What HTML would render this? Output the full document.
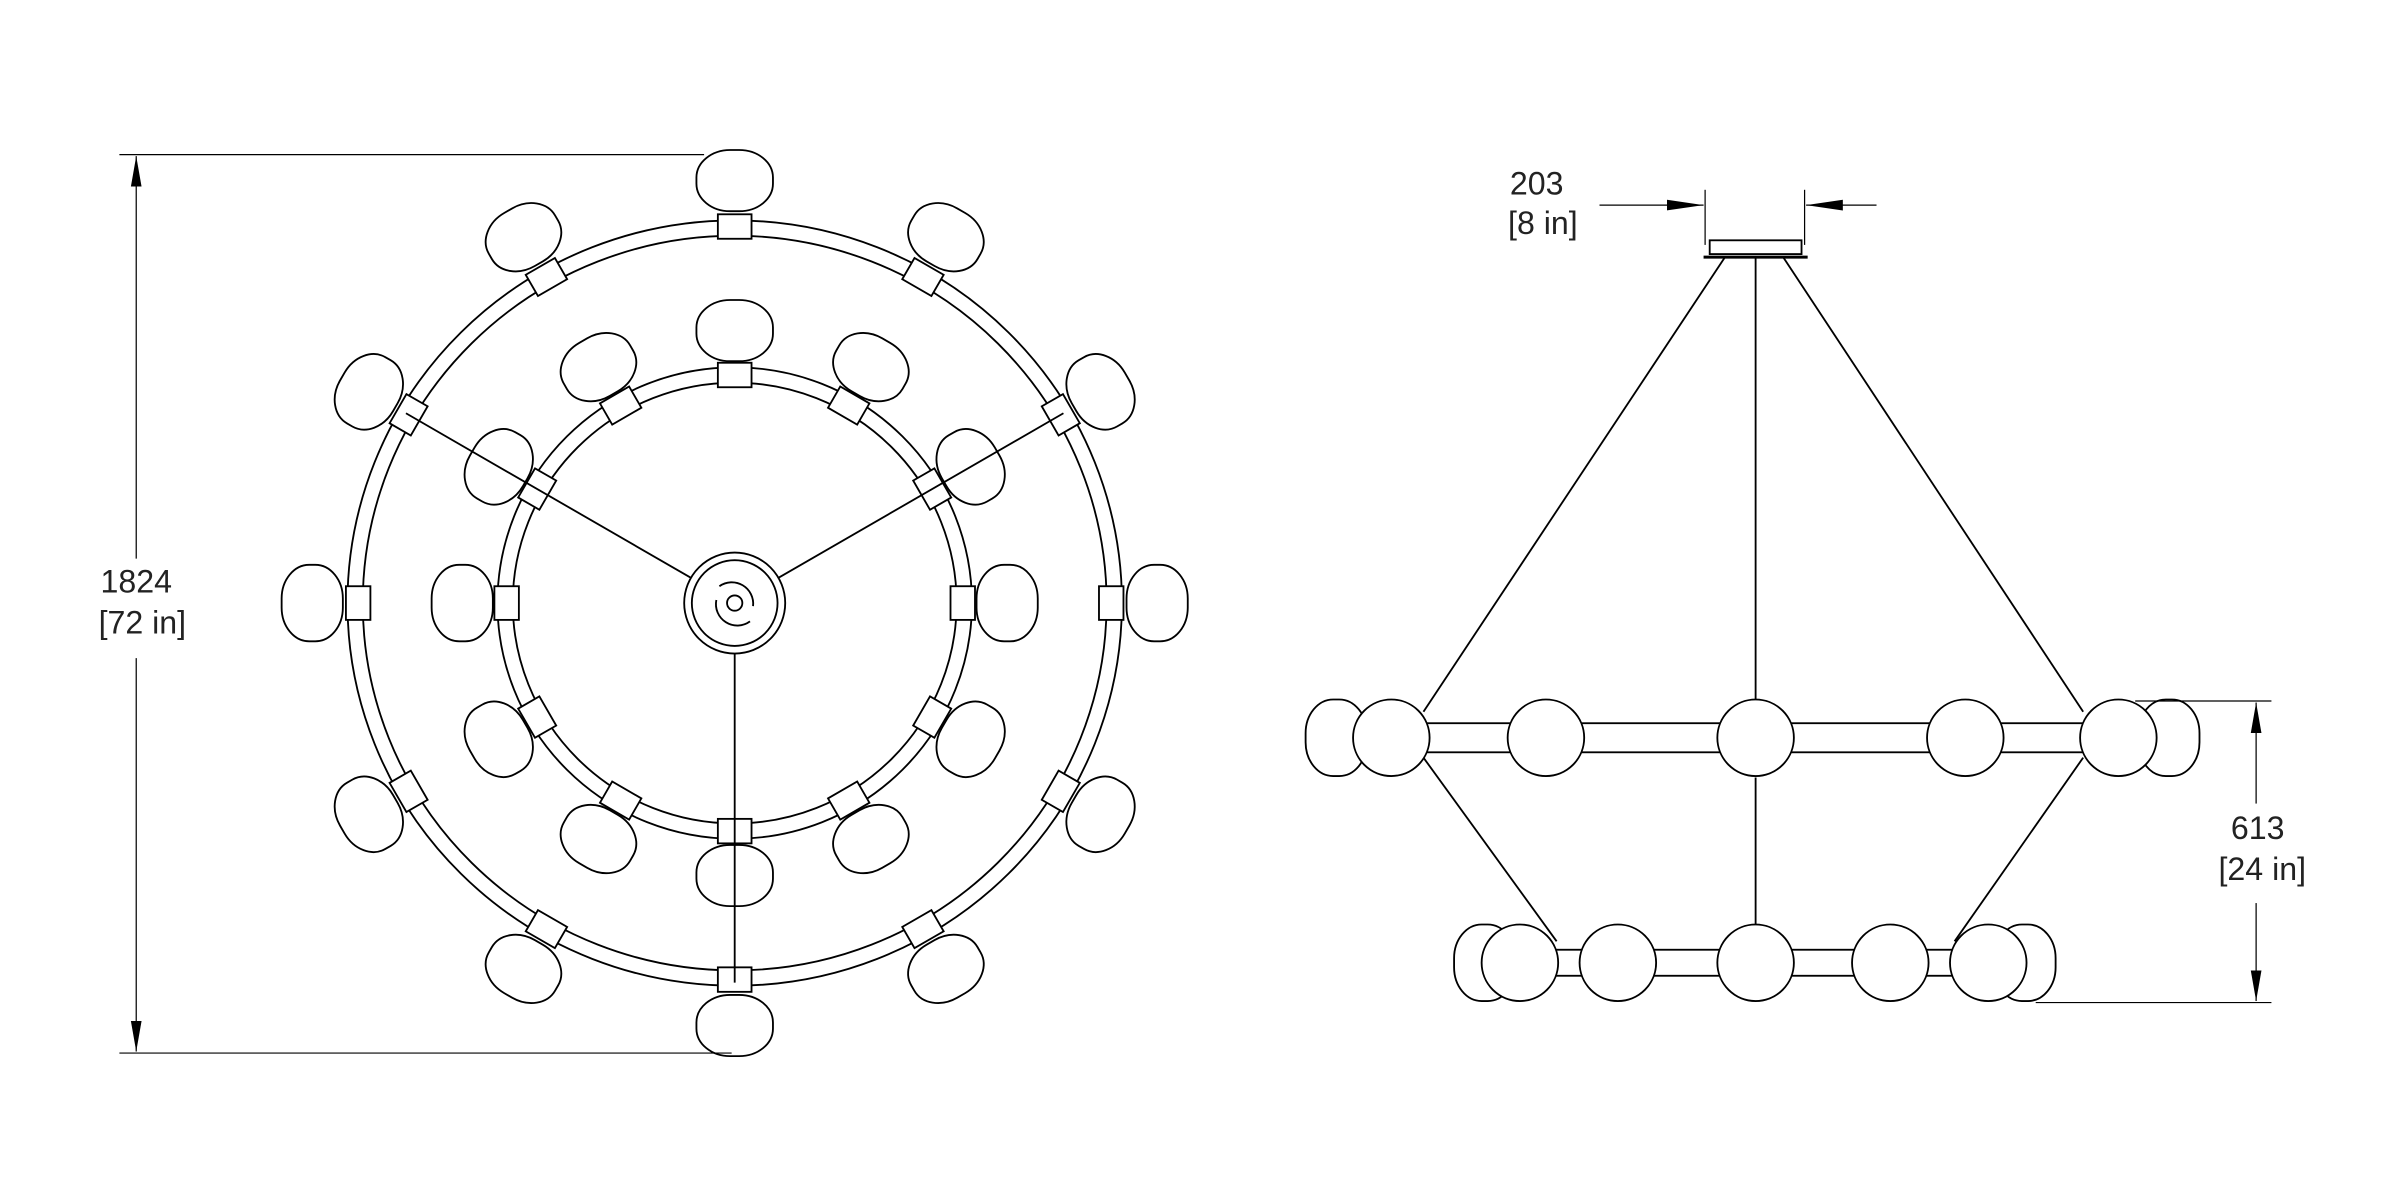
<!DOCTYPE html>
<html><head><meta charset="utf-8"><style>
html,body{margin:0;padding:0;background:#fff;}
svg{display:block;}
text{font-family:"Liberation Sans",sans-serif;font-size:21px;fill:#222;}
</style></head><body>
<svg id="dwg" width="2400" height="1200" viewBox="0 0 1568 784" xmlns="http://www.w3.org/2000/svg">
<defs>
<marker id="ar" viewBox="0 0 24 10" refX="24" refY="5" markerWidth="24" markerHeight="10" markerUnits="userSpaceOnUse" orient="auto-start-reverse"><path d="M0,1.5 L24,5 L0,8.5 z" fill="#000"/></marker>
<marker id="arL" viewBox="0 0 20 10" refX="20" refY="5" markerWidth="20" markerHeight="10" markerUnits="userSpaceOnUse" orient="auto-start-reverse"><path d="M0,1.5 L20,5 L0,8.5 z" fill="#000"/></marker>
</defs>
<g id="top-view" fill="none" stroke="#000" stroke-width="1.2"></g>
<g id="side-view" fill="none" stroke="#000" stroke-width="1.2"></g>
<g stroke="#000" stroke-width="0.8">
<line x1="78" y1="101" x2="460" y2="101"/>
<line x1="78" y1="688" x2="478" y2="688"/>
<line x1="89" y1="365" x2="89" y2="102" marker-end="url(#arL)"/>
<line x1="89" y1="430" x2="89" y2="687" marker-end="url(#arL)"/>
</g>
<text x="89" y="387" text-anchor="middle">1824</text>
<text x="93" y="414" text-anchor="middle">[72 in]</text>
<g stroke="#000" stroke-width="0.8">
<line x1="1114" y1="124" x2="1114" y2="160"/>
<line x1="1179" y1="124" x2="1179" y2="160"/>
<line x1="1045" y1="134" x2="1113" y2="134" marker-end="url(#ar)"/>
<line x1="1226" y1="134" x2="1180" y2="134" marker-end="url(#ar)"/>
</g>
<text x="1004" y="127" text-anchor="middle">203</text>
<text x="1008" y="153" text-anchor="middle">[8 in]</text>
<g stroke="#000" stroke-width="0.8">
<line x1="1395" y1="458" x2="1484" y2="458"/>
<line x1="1330" y1="655" x2="1484" y2="655"/>
<line x1="1474" y1="525" x2="1474" y2="459" marker-end="url(#arL)"/>
<line x1="1474" y1="590" x2="1474" y2="654" marker-end="url(#arL)"/>
</g>
<text x="1475" y="548" text-anchor="middle">613</text>
<text x="1478" y="575" text-anchor="middle">[24 in]</text>
</svg>
<script>
const NS="http://www.w3.org/2000/svg";
function mk(parent,tag,attrs){const e=document.createElementNS(NS,tag);for(const k in attrs)e.setAttribute(k,attrs[k]);parent.appendChild(e);return e;}
const tv=document.getElementById('top-view');
const cx=480,cy=394;
[[253,250,243,240],[155,154,145,144]].forEach(function(r,i){
 const a=mk(tv,'ellipse',{cx:cx,cy:cy,rx:r[0],ry:r[1],fill:'#fff'});
 
 
 const b=mk(tv,'ellipse',{cx:cx,cy:cy,rx:r[2],ry:r[3]});
 
 
});
function ring(rc,rg,name){
 for(let k=0;k<12;k++){
  const ang=k*30;const t=ang*Math.PI/180;
  const g=mk(tv,'g',{transform:'translate('+(cx+rg*Math.sin(t))+','+(cy-rg*Math.cos(t))+') rotate('+ang+')'});
  
  
  mk(g,'rect',{x:-25,y:-20,width:50,height:40,rx:22,ry:18,fill:'#fff'});
  const c=mk(tv,'rect',{x:-11,y:-8,width:22,height:16,fill:'#fff',transform:'translate('+(cx+rc*Math.sin(t))+','+(cy-rc*Math.cos(t))+') rotate('+ang+')'});
  
  
 }
}
ring(246,276,'outer');ring(149,178,'inner');
[[150,248],[30,248],[270,248]].forEach(function(c){
 const t=c[0]*Math.PI/180;
 const l=mk(tv,'line',{x1:cx+33*Math.cos(t),y1:cy-33*Math.sin(t),x2:cx+c[1]*Math.cos(t),y2:cy-c[1]*Math.sin(t)});
 
 
});
const cp=mk(tv,'circle',{cx:cx,cy:cy,r:33,fill:'#fff'});


mk(tv,'circle',{cx:cx,cy:cy,r:28});
mk(tv,'circle',{cx:cx,cy:cy,r:5});
mk(tv,'path',{d:'M470,383 A14,14 0 0 1 492,396 M490,406 A14,14 0 0 1 468,392'});
const sv=document.getElementById('side-view');
const can=mk(sv,'rect',{x:1117,y:157,width:60,height:9,fill:'#fff'});


mk(sv,'line',{x1:1113,y1:168,x2:1181,y2:168,'stroke-width':2});
[[1127,168,930,465],[1147,168,1147,458],[1165,168,1361,465],[930,495,1017,615],[1147,508,1147,605],[1361,495,1277,615]].forEach(function(p){
 const l=mk(sv,'line',{x1:p[0],y1:p[1],x2:p[2],y2:p[3]});
 
 
});
function tier(y,x1,x2,h,xs,back,name){
 const b=mk(sv,'rect',{x:x1,y:y-h/2,width:x2-x1,height:h,fill:'#fff'});
 
 
 back.forEach(function(x){const e=mk(sv,'rect',{x:x-20,y:y-25,width:40,height:50,rx:18,ry:22,fill:'#fff'});
  
  });
 xs.forEach(function(x){const e=mk(sv,'ellipse',{cx:x,cy:y,rx:25,ry:25,fill:'#fff'});
  
  });
}
tier(482,925,1365,19,[909,1010,1147,1284,1384],[873,1417],'upper-tier');
tier(629,1010,1285,17,[993,1057,1147,1235,1299],[970,1323],'lower-tier');
</script>
</body></html>
